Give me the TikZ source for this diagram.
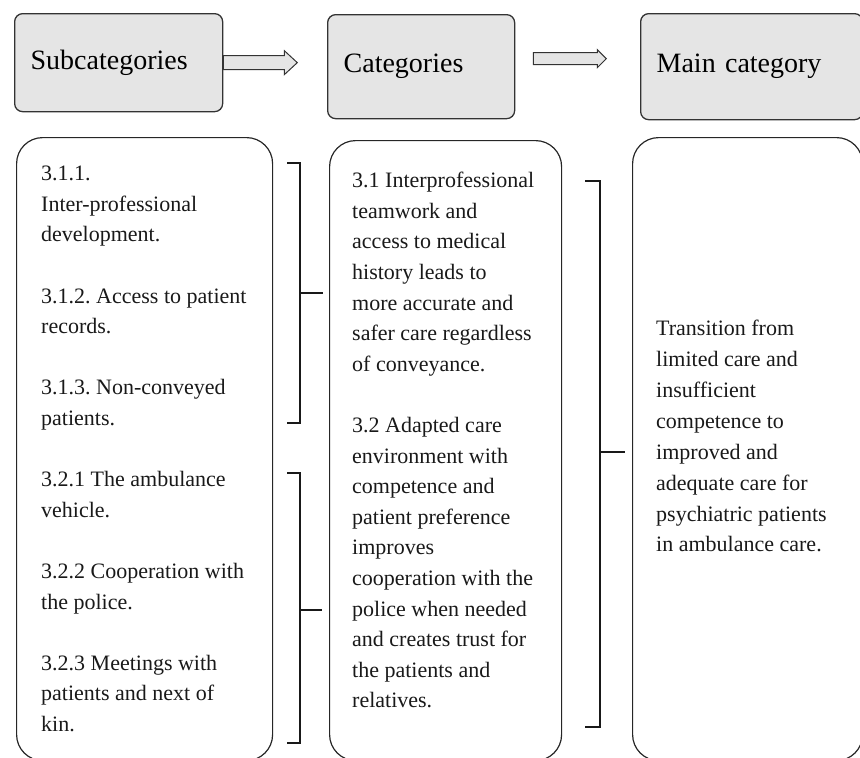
\documentclass[tikz,border=0pt]{standalone}
\usepackage{fontspec}
\setmainfont{Liberation Serif}
\usetikzlibrary{calc}
\frenchspacing

\tikzset{
  hdr/.style={draw=black!80, line width=1.3pt, fill=gray!20, rounded corners=8pt, anchor=north west, align=left, inner xsep=16pt, font=\fontsize{28}{32}\selectfont},
  bigbox/.style={draw=black!85, line width=1.2pt, rounded corners=26pt, anchor=north west, inner sep=0pt},
  body/.style={anchor=north west, inner sep=0pt, align=left, text=black!90, font=\fontsize{22}{30.6}\selectfont},
  flow/.style={draw=black!80, line width=1pt, fill=gray!20, line join=miter},
  brk/.style={draw=black!90, line width=1.3pt}
}

\begin{document}
\begin{tikzpicture}[x=1pt, y=-1pt]
    \useasboundingbox (0,0) rectangle (860,758);

    % Header boxes
    \node[hdr, text width=176pt, minimum height=98pt] (sub) at (14,13) {Subcategories};
    \node[hdr, text width=155pt, minimum height=104pt] (cat) at (327,14) {Categories};
    \node[hdr, text width=190pt, minimum height=106pt] (main) at (640,13) {Main category};

    % Hollow arrows between headers
    \draw[flow] ($(sub.east)+(0,-7)$) -- ++(61,0) -- ++(0,-5) -- ++(13,12) -- ++(-13,12) -- ++(0,-5) -- ++(-61,0) -- cycle;
    \draw[flow] ($(cat.east)+(18,-14)$) -- ++(64,0) -- ++(0,-3) -- ++(9,9) -- ++(-9,9) -- ++(0,-3) -- ++(-64,0) -- cycle;

    % Large boxes
    \node[bigbox, minimum width=256pt, minimum height=623pt] (subbox) at (16,137) {};
    \node[bigbox, minimum width=232pt, minimum height=620pt] (catbox) at (329,140) {};
    \node[bigbox, minimum width=230pt, minimum height=623pt] (mainbox) at (632,137) {};

    % Subcategories text
    \node[body] (subtxt) at (41,166) {3.1.1.\\Inter-professional\\development.\\[30.6pt]3.1.2. Access to patient\\records.\\[30.6pt]3.1.3. Non-conveyed\\patients.\\[30.6pt]3.2.1 The ambulance\\vehicle.\\[30.6pt]3.2.2 Cooperation with\\the police.\\[30.6pt]3.2.3 Meetings with\\patients and next of\\kin.};

    % Categories text
    \node[body] (cattxt) at (352,172) {3.1 Interprofessional\\teamwork and\\access to medical\\history leads to\\more accurate and\\safer care regardless\\of conveyance.\\[30.6pt]3.2 Adapted care\\environment with\\competence and\\patient preference\\improves\\cooperation with the\\police when needed\\and creates trust for\\the patients and\\relatives.};

    % Main category text
    \node[body, font=\fontsize{22}{30.9}\selectfont] (maintxt) at (656,320) {Transition from\\limited care and\\insufficient\\competence to\\improved and\\adequate care for\\psychiatric patients\\in ambulance care.};

    % Brackets
    \draw[brk] (287,163) -- (300,163) -- (300,423) -- (287,423);
    \draw[brk] (300,293) -- (323,293);
    \draw[brk] (287,473) -- (300,473) -- (300,743) -- (287,743);
    \draw[brk] (300,610) -- (322,610);
    \draw[brk] (585,181) -- (600,181) -- (600,727) -- (585,727);
    \draw[brk] (600,452) -- (625,452);
\end{tikzpicture}
\end{document}
